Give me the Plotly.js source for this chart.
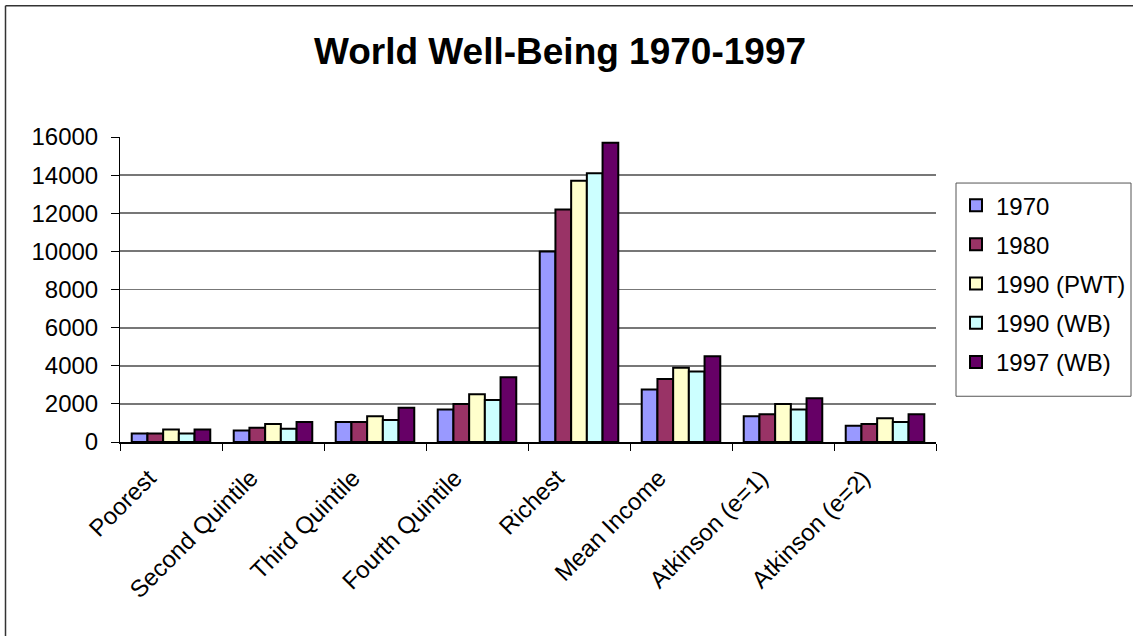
<!DOCTYPE html>
<html>
<head>
<meta charset="utf-8">
<script src="https://cdn.plot.ly/plotly-3.0.1.min.js"></script>
<style>
  html, body { margin: 0; padding: 0; background: #ffffff; }
  #chart { width: 1133px; height: 636px; }
</style>
</head>
<body>
<div id="chart"></div>
<script>
// Income groups along the horizontal axis
const categories = ['Poorest', 'Second Quintile', 'Third Quintile', 'Fourth Quintile',
                    'Richest', 'Mean Income', 'Atkinson (e=1)', 'Atkinson (e=2)'];

// Values per series
const y1970    = [450, 600, 1050, 1700, 10000, 2750, 1350, 850];
const y1980    = [450, 750, 1050, 2000, 12200, 3300, 1450, 950];
const y1990pwt = [650, 950, 1350, 2500, 13700, 3900, 2000, 1250];
const y1990wb  = [450, 700, 1150, 2200, 14100, 3700, 1700, 1050];
const y1997wb  = [650, 1050, 1800, 3400, 15700, 4500, 2300, 1450];

const seriesNames = ['1970', '1980', '1990 (PWT)', '1990 (WB)', '1997 (WB)'];
const seriesValues = [y1970, y1980, y1990pwt, y1990wb, y1997wb];
const seriesColors = ['#9999FF', '#993366', '#FFFFCC', '#CCFFFF', '#660066'];

const yTicks = [0, 2000, 4000, 6000, 8000, 10000, 12000, 14000, 16000];

const FONT = 'Liberation Sans, Arial, sans-serif';

const traces = seriesNames.map((name, i) => ({
  type: 'bar',
  name: name,
  x: categories,
  y: seriesValues[i],
  legendgroup: 'g' + i,
  marker: { color: seriesColors[i], line: { color: '#000000', width: 2 } },
  hoverinfo: 'x+y+name'
}));

// Plot area in pixels: left 120, right 936, top 137, bottom 441.7
const L = 120, R = 936, T = 137, B = 441.7, W = 1133, H = 636;
const px = v => (v - L) / (R - L);
const py = v => (B - v) / (B - T);

const layout = {
  width: W,
  height: H,
  margin: { l: L, r: W - R, t: T, b: H - B, pad: 0, autoexpand: false },
  paper_bgcolor: '#ffffff',
  plot_bgcolor: '#ffffff',
  font: { family: FONT, size: 24, color: '#000000' },
  title: {
    text: '<b>World Well-Being 1970-1997</b>',
    font: { family: FONT, size: 37, color: '#000000' },
    x: 560 / W, xanchor: 'center', xref: 'container',
    y: 1 - 51 / H, yanchor: 'middle', yref: 'container'
  },
  barmode: 'group',
  bargap: 0.23,
  bargroupgap: 0,
  xaxis: {
    type: 'category',
    tickangle: -45,
    tickson: 'boundaries',
    ticks: 'outside',
    ticklen: 7,
    tickwidth: 1,
    tickcolor: '#000000',
    ticklabelstandoff: 11,
    ticklabelshift: -22,
    showline: true,
    linecolor: '#000000',
    linewidth: 1.5,
    showgrid: false,
    tickfont: { family: FONT, size: 24, color: '#000000' },
    fixedrange: true
  },
  yaxis: {
    range: [0, 16000],
    tickvals: yTicks,
    ticktext: yTicks.map(String),
    ticks: 'outside',
    ticklen: 8,
    tickwidth: 1,
    tickcolor: '#000000',
    ticklabelstandoff: 8,
    showline: true,
    linecolor: '#000000',
    linewidth: 1,
    showgrid: true,
    gridcolor: '#777777',
    gridwidth: 1.8,
    zeroline: false,
    tickfont: { family: FONT, size: 24, color: '#000000' },
    fixedrange: true
  },
  legend: {
    x: px(956), xanchor: 'left',
    y: py(183), yanchor: 'top',
    bgcolor: 'rgba(0,0,0,0)',
    borderwidth: 0,
    traceorder: 'grouped',
    tracegroupgap: 5,
    font: { family: FONT, size: 24, color: '#000000' },
    itemclick: false,
    itemdoubleclick: false
  },
  shapes: [
    // chart frame (left and top edges)
    { type: 'line', xref: 'paper', yref: 'paper',
      x0: px(5.5), x1: px(5.5), y0: py(6), y1: py(H + 10),
      line: { color: '#333333', width: 1.5 } },
    { type: 'line', xref: 'paper', yref: 'paper',
      x0: px(5.5), x1: px(W + 10), y0: py(6), y1: py(6),
      line: { color: '#333333', width: 1.5 } },
    // legend frame
    { type: 'rect', xref: 'paper', yref: 'paper',
      x0: px(956), x1: px(1131), y0: py(183), y1: py(396),
      line: { color: '#555555', width: 1 }, fillcolor: 'rgba(0,0,0,0)' }
  ],
  showlegend: true
};

Plotly.newPlot('chart', traces, layout, { displayModeBar: false, staticPlot: true });
</script>
</body>
</html>
